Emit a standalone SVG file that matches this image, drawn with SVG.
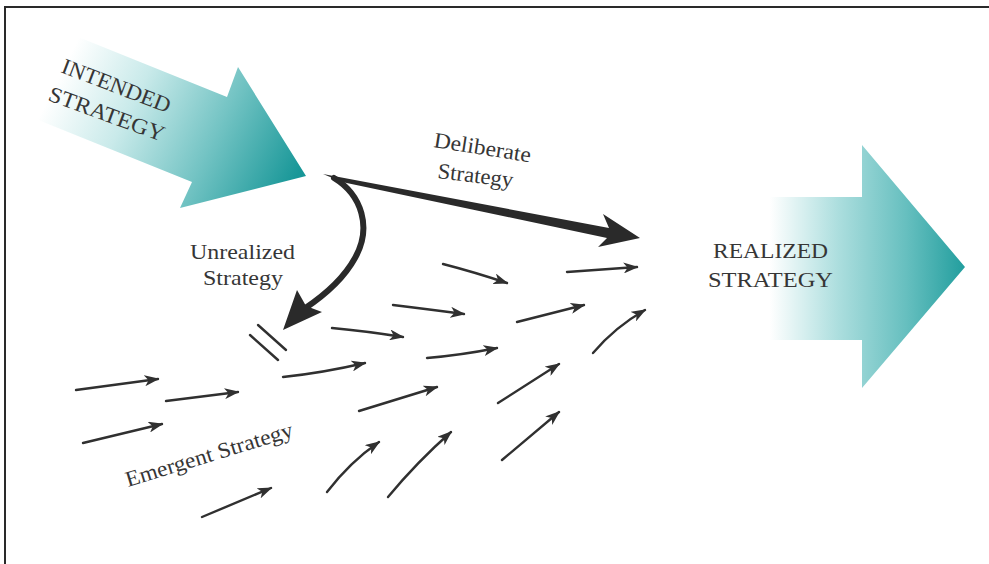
<svg xmlns="http://www.w3.org/2000/svg" width="989" height="564" viewBox="0 0 989 564">
  <style>
    .lbl { font-family: "Liberation Serif", "Times New Roman", serif; fill: #363636; }
    .big { font-size: 22px; }
    .small { font-size: 22px; }
    .em { fill: none; stroke: #303030; stroke-width: 2.4; stroke-linecap: round; marker-end: url(#head); }
    .bold { fill: #2a2a2a; }
  </style>
  <defs>
    <linearGradient id="gIntended" gradientUnits="userSpaceOnUse" x1="70" y1="55" x2="300" y2="170">
      <stop offset="0" stop-color="#ffffff"/>
      <stop offset="0.3" stop-color="#c9eaea"/>
      <stop offset="0.65" stop-color="#72c3c3"/>
      <stop offset="1" stop-color="#189798"/>
    </linearGradient>
    <linearGradient id="gRealized" gradientUnits="userSpaceOnUse" x1="770" y1="0" x2="965" y2="0">
      <stop offset="0" stop-color="#ffffff"/>
      <stop offset="0.35" stop-color="#acdede"/>
      <stop offset="0.7" stop-color="#66bfbf"/>
      <stop offset="1" stop-color="#229e9e"/>
    </linearGradient>
    <marker id="head" markerUnits="userSpaceOnUse" viewBox="0 0 15 11" markerWidth="15" markerHeight="11" refX="13.5" refY="5.5" orient="auto">
      <path d="M0,0 L15,5.5 L0,11 L4,5.5 Z" fill="#303030"/>
    </marker>
  </defs>

  <rect x="0" y="0" width="989" height="564" fill="#ffffff"/>
  <g id="frame" stroke="#2a2a2a" stroke-width="2" fill="none">
    <line x1="4" y1="7" x2="989" y2="7"/>
    <line x1="5" y1="6" x2="5" y2="564"/>
  </g>

  <g id="intended-strategy">
    <polygon points="41,22 227,97 238,67 306,176 180,208 192,182 6,107" fill="url(#gIntended)"/>
    <text class="lbl big" x="60" y="72" transform="rotate(21 60 72)" textLength="115" lengthAdjust="spacingAndGlyphs">INTENDED</text>
    <text class="lbl big" x="47" y="100" transform="rotate(20 47 100)" textLength="122" lengthAdjust="spacingAndGlyphs">STRATEGY</text>
  </g>

  <g id="realized-strategy">
    <polygon points="760,197 862,197 862,145 965,267 862,388 862,340 760,340" fill="url(#gRealized)"/>
    <text class="lbl big" x="713" y="258" textLength="115" lengthAdjust="spacingAndGlyphs">REALIZED</text>
    <text class="lbl big" x="708" y="287" textLength="125" lengthAdjust="spacingAndGlyphs">STRATEGY</text>
  </g>

  <g id="connectors">
    <g id="deliberate-strategy">
      <polygon class="bold" points="323,174 609,228 603,214 640,238 598,247 607,238 342,182"/>
      <text class="lbl small" x="433" y="147" transform="rotate(9 433 147)" textLength="98" lengthAdjust="spacingAndGlyphs">Deliberate</text>
      <text class="lbl small" x="437" y="178" transform="rotate(7 437 178)" textLength="76" lengthAdjust="spacingAndGlyphs">Strategy</text>
    </g>
    <g id="unrealized-strategy">
      <path d="M334,178 C362,195 372,228 355,258 C343,280 322,297 304,309" fill="none" stroke="#2a2a2a" stroke-width="6" stroke-linecap="round"/>
      <polygon class="bold" points="297,290 306,306 322,312 283,330"/>
      <text class="lbl small" x="190" y="259" textLength="105" lengthAdjust="spacingAndGlyphs">Unrealized</text>
      <text class="lbl small" x="203" y="285" textLength="80" lengthAdjust="spacingAndGlyphs">Strategy</text>
      <g stroke="#303030" stroke-width="2.4" stroke-linecap="round">
        <line x1="258" y1="325" x2="286" y2="350"/>
        <line x1="250" y1="335" x2="278" y2="360"/>
      </g>
    </g>
    <g id="emergent-strategy">
      <path class="em" d="M76,390 L158,379"/>
      <path class="em" d="M166,401 L238,392"/>
      <path class="em" d="M83,443 L162,424"/>
      <path class="em" d="M202,517 L271,488"/>
      <path class="em" d="M283,377 Q322,373 365,363"/>
      <path class="em" d="M332,328 Q365,331 403,337"/>
      <path class="em" d="M393,305 Q426,309 464,314"/>
      <path class="em" d="M443,264 Q474,272 507,283"/>
      <path class="em" d="M567,272 L637,267"/>
      <path class="em" d="M517,322 L584,305"/>
      <path class="em" d="M593,353 Q615,327 645,310"/>
      <path class="em" d="M427,358 Q462,355 497,348"/>
      <path class="em" d="M359,411 L437,387"/>
      <path class="em" d="M498,403 L559,364"/>
      <path class="em" d="M327,492 Q350,462 379,442"/>
      <path class="em" d="M388,497 Q417,462 451,432"/>
      <path class="em" d="M502,460 L559,412"/>
      <text class="lbl small" x="128" y="487" transform="rotate(-17 128 487)" textLength="174" lengthAdjust="spacingAndGlyphs">Emergent Strategy</text>
    </g>
  </g>
</svg>
